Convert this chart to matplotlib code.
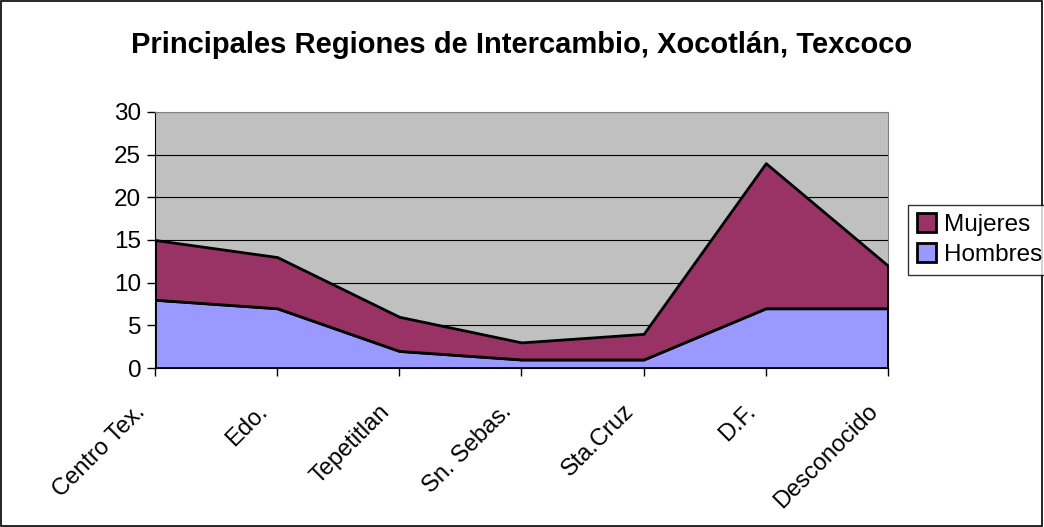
import matplotlib.pyplot as plt
import matplotlib.transforms as mtransforms
import numpy as np
from matplotlib.patches import Rectangle

plt.rcParams['font.family'] = ['Liberation Sans', 'DejaVu Sans']

regiones = ['Centro Tex.', 'Edo.', 'Tepetitlan', 'Sn. Sebas.', 'Sta.Cruz', 'D.F.', 'Desconocido']
hombres = [8, 7, 2, 1, 1, 7, 7]
mujeres = [7, 6, 4, 2, 3, 17, 5]

x = np.arange(len(regiones))
total = np.array(hombres) + np.array(mujeres)

fig = plt.figure(figsize=(10.44, 5.27), dpi=100)
fig.patches.append(Rectangle((0.0005, 0.001), 0.998, 0.997, transform=fig.transFigure,
                             fill=False, edgecolor='black', linewidth=1.2))
ax = fig.add_axes([0.1485, 0.3017, 0.702, 0.4858])
ax.set_facecolor('#c0c0c0')

ax.fill_between(x, 0, hombres, facecolor='#9999ff', edgecolor='black', linewidth=2,
                label='Hombres', zorder=3)
ax.fill_between(x, hombres, total, facecolor='#993366', edgecolor='black', linewidth=2,
                label='Mujeres', zorder=3)

ax.set_xlim(0, len(regiones) - 1)
ax.set_ylim(0, 30)
ax.set_yticks(range(0, 31, 5))
ax.yaxis.grid(True, color='black', linewidth=0.8, zorder=1)
ax.set_axisbelow(True)
ax.set_xticks(x)
ax.set_xticklabels(regiones, rotation=45, ha='right', va='center', rotation_mode='anchor')
ax.tick_params(axis='y', labelsize=17.5, direction='out', length=6, width=1, pad=4)
ax.tick_params(axis='x', labelsize=17, direction='out', length=6, width=1, pad=0)

# shift the slanted labels down-left so they hang under the ticks
shift = mtransforms.ScaledTranslation(-13 / 100, -32 / 100, fig.dpi_scale_trans)
for lab in ax.get_xticklabels():
    lab.set_transform(lab.get_transform() + shift)

for s in ['top', 'right']:
    ax.spines[s].set_color('#808080')
for s in ['left', 'bottom']:
    ax.spines[s].set_color('black')

fig.text(0.5, 0.915, 'Principales Regiones de Intercambio, Xocotlán, Texcoco',
         ha='center', va='center', fontsize=21, fontweight='bold')

h, l = ax.get_legend_handles_labels()
leg = fig.legend(h[::-1], l[::-1], loc='center left', bbox_to_anchor=(0.870, 0.545),
                 fontsize=17.5, frameon=True, fancybox=False, edgecolor='black',
                 handlelength=0.8, handleheight=0.8, handletextpad=0.3,
                 borderpad=0.35, labelspacing=0.3, borderaxespad=0)
leg.get_frame().set_linewidth(1)

fig.savefig('out.png', dpi=100)
